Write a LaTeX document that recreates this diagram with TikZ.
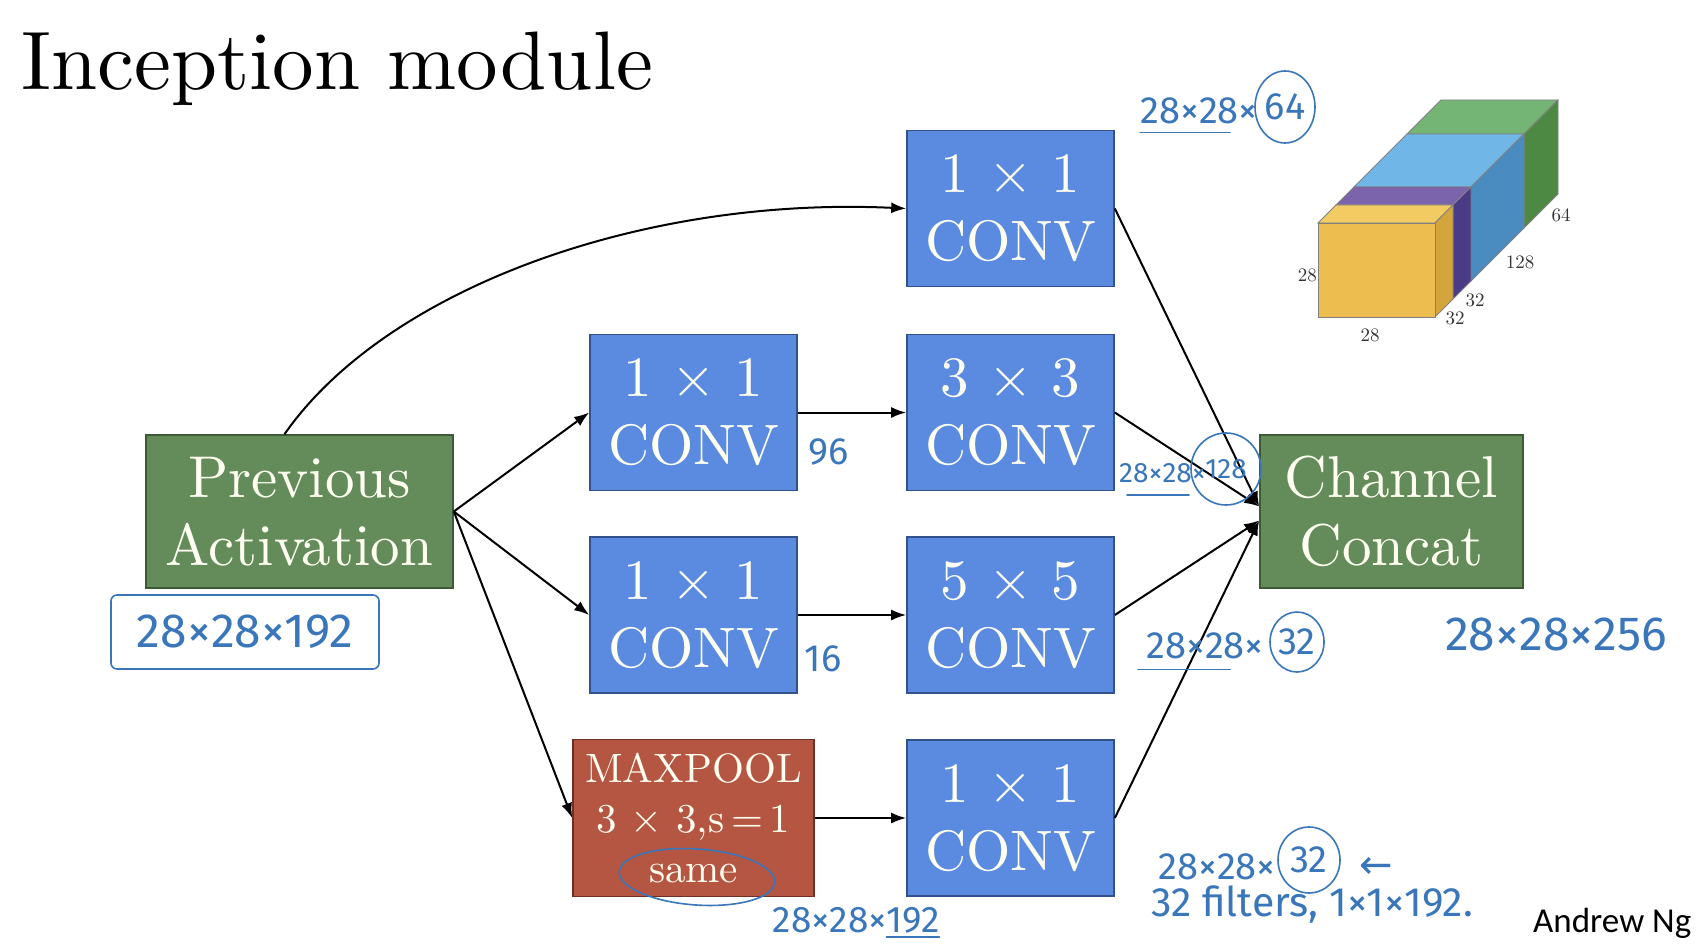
\documentclass[tikz,border=0pt]{standalone}
\usepackage{fontspec}
\setmainfont{lmroman10-regular.otf}[BoldFont=lmroman10-bold.otf, ItalicFont=lmroman10-italic.otf]
\newfontfamily\handfont{Fira Sans}
\newfontfamily\ngfont{Carlito}
\newfontfamily\arrowfont{DejaVu Sans}
\usetikzlibrary{shapes.geometric,arrows.meta}
\definecolor{convblue}{HTML}{5B8BE0}
\definecolor{convedge}{HTML}{34528A}
\definecolor{boxgreen}{HTML}{648C5A}
\definecolor{greenedge}{HTML}{3C5A34}
\definecolor{poolred}{HTML}{B45642}
\definecolor{pooledge}{HTML}{6E3024}
\definecolor{boxtext}{HTML}{FFFFF2}
\definecolor{handblue}{HTML}{3A76BA}
\definecolor{cubeedge}{HTML}{808080}
\definecolor{yfront}{HTML}{EDBE4F}
\definecolor{ytop}{HTML}{F3CB63}
\definecolor{yside}{HTML}{D4A53C}
\definecolor{ptop}{HTML}{7C64AC}
\definecolor{pside}{HTML}{4A3B87}
\definecolor{btop}{HTML}{70B7E8}
\definecolor{bside}{HTML}{4A8BC0}
\definecolor{gtop}{HTML}{74B474}
\definecolor{gside}{HTML}{4E8943}
% slab of the cube: depth from #1 to #2, top colour #3, side colour #4
\newcommand{\cubeslab}[4]{%
  \filldraw[fill=#3,draw=cubeedge,line width=0.8pt]
    (1318+#1,223-#1) -- (1435+#1,223-#1) -- (1435+#2,223-#2) -- (1318+#2,223-#2) -- cycle;
  \filldraw[fill=#4,draw=cubeedge,line width=0.8pt]
    (1435+#1,223-#1) -- (1435+#2,223-#2) -- (1435+#2,317-#2) -- (1435+#1,317-#1) -- cycle;
}
\tikzset{
  convbox/.style={draw=convedge, fill=convblue, line width=1.6pt,
    minimum width=207pt, minimum height=156pt, inner sep=0pt, align=center,
    text=boxtext, font=\fontsize{57}{68}\selectfont},
  greenbox/.style={draw=greenedge, fill=boxgreen, line width=1.6pt,
    minimum width=307pt, minimum height=153pt, inner sep=0pt, align=center,
    text=boxtext, font=\fontsize{59}{68}\selectfont},
  poolbox/.style={draw=pooledge, fill=poolred, line width=1.6pt,
    minimum width=241pt, minimum height=157pt, inner sep=0pt, align=center,
    text=boxtext, font=\fontsize{41}{50}\selectfont},
  conn/.style={line width=2pt, draw=black, -{Latex[length=15pt,width=11pt]}},
  hand/.style={text=handblue, inner sep=0pt, font=\handfont\fontsize{#1}{#1}\selectfont},
  hand/.default=38,
  handcirc/.style={hand=#1, ellipse, draw=handblue, line width=1.6pt},
  handcirc/.default=38,
  handline/.style={draw=handblue, line width=1.6pt, line cap=round},
  lab/.style={inner sep=0pt, text=black!80, font=\fontsize{19}{20}\selectfont},
}
\begin{document}
\begin{tikzpicture}[x=1pt,y=-1pt]
\fill[white] (0,0) rectangle (1702,944);
\useasboundingbox (0,0) rectangle (1702,944);

% title
\node[anchor=base west, inner sep=0pt, font=\fontsize{83}{90}\selectfont] (title) at (21,90) {Inception module};

% boxes
\node[greenbox] (prev) at (299.5,511.5) {Previous\\Activation};
\node[convbox] (a2) at (693.5,412.5) {1 × 1\\CONV};
\node[convbox] (a3) at (693.5,615) {1 × 1\\CONV};
\node[poolbox] (mp) at (693.5,818) {MAXPOOL\\3 × 3,s\,=\,1\\same};
\node[convbox] (c1) at (1010.5,208.5) {1 × 1\\CONV};
\node[convbox] (c2) at (1010.5,412.5) {3 × 3\\CONV};
\node[convbox] (c3) at (1010.5,615) {5 × 5\\CONV};
\node[convbox] (c4) at (1010.5,818) {1 × 1\\CONV};
\node[greenbox, minimum width=263pt] (cc) at (1391.5,511.5) {Channel\\Concat};

% connectors
\draw[conn] ([xshift=-15pt]prev.north) .. controls (385,290) and (640,196) .. (c1.west);
\draw[conn] (prev.east) -- (a2.west);
\draw[conn] (prev.east) -- (a3.west);
\draw[conn] (prev.east) -- (mp.west);
\draw[conn] (a2.east) -- (c2.west);
\draw[conn] (a3.east) -- (c3.west);
\draw[conn] (mp.east) -- (c4.west);
\draw[conn] (c1.east) -- ([yshift=5pt]cc.west);
\draw[conn] (c2.east) -- ([yshift=5pt]cc.west);
\draw[conn] (c3.east) -- ([yshift=-9pt]cc.west);
\draw[conn] (c4.east) -- ([yshift=-9pt]cc.west);

% cube
\cubeslab{89}{123}{gtop}{gside}
\cubeslab{36}{89}{btop}{bside}
\cubeslab{18}{36}{ptop}{pside}
\cubeslab{0}{18}{ytop}{yside}
\filldraw[fill=yfront,draw=cubeedge,line width=0.8pt] (1318,223) rectangle (1435,317);
\node[lab, anchor=east] (l1) at (1317,275) {28};
\node[lab] (l2) at (1370,335) {28};
\node[lab] (l3) at (1455,318) {32};
\node[lab] (l4) at (1475,300) {32};
\node[lab] (l5) at (1520,262) {128};
\node[lab] (l6) at (1561,215) {64};

% handwriting
\node[handcirc, minimum width=60pt, minimum height=72pt] (h1n) at (1285,107) {64};
\node[hand, anchor=east] (h1) at (1258,111) {28×28×};
\draw[handline] ([yshift=-8pt]h1.south west) -- ([yshift=-8pt,xshift=-28pt]h1.south east);

\node[hand] (n96) at (829,452) {96};
\node[hand] (n16) at (823,659) {16};

\node[handcirc=28, minimum width=70pt, minimum height=72pt] (h4n) at (1226,469) {128};
\node[hand=28, anchor=east] (h4) at (1206,473) {28×28×};
\draw[handline] ([yshift=-12pt,xshift=8pt]h4.south west) -- ++(62,0);

\node[handcirc, minimum width=54pt, minimum height=60pt] (h5n) at (1297,642) {32};
\node[hand, anchor=east] (h5) at (1264,646) {28×28×};
\draw[handline] ([yshift=-10pt,xshift=-8pt]h5.south west) -- ++(92,0);

\node[hand=48] (h6) at (1556,634) {28×28×256};

\node[handcirc, minimum width=62pt, minimum height=66pt] (h7n) at (1309,860) {32};
\node[hand, anchor=east] (h7) at (1276,867) {28×28×};
\node[text=handblue, inner sep=0pt, font=\arrowfont\fontsize{40}{40}\selectfont] (h7a) at (1376,868) {←};
\node[hand=41] (h8) at (1312,905) {32 filters, 1×1×192.};

\node[hand=37] (h9) at (856,920) {28×28×192};
\draw[handline] ([yshift=-4pt,xshift=-53pt]h9.south east) -- ([yshift=-4pt]h9.south east);

\node[hand=48, draw=handblue, line width=1.6pt, rounded corners=6pt,
      minimum width=268pt, minimum height=74pt] (h10) at (245,632) {28×28×192};

\draw[handline, rotate around={-4:(697,877)}] (697,877) ellipse [x radius=78pt, y radius=28pt];

% credit
\node[anchor=base west, inner sep=0pt, font=\ngfont\fontsize{35}{40}\selectfont] (ng) at (1533,932) {Andrew Ng};
\end{tikzpicture}
\end{document}
